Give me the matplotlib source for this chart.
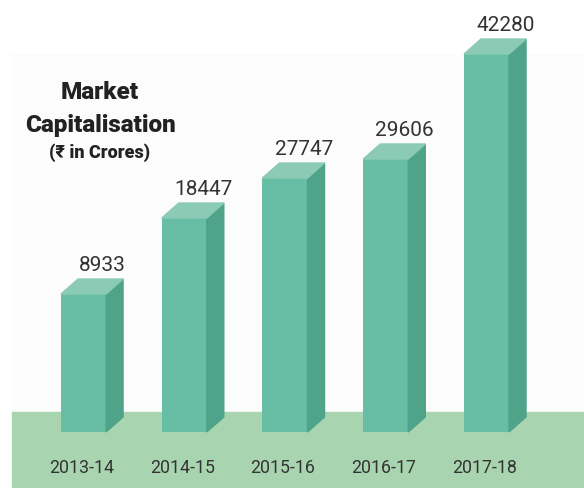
import numpy as np
import matplotlib
matplotlib.use("Agg")
import matplotlib.pyplot as plt

years = ["2013-14", "2014-15", "2015-16", "2016-17", "2017-18"]
market_cap = [8933, 18447, 27747, 29606, 42280]
# drawn heights as they appear in the infographic (not to scale)
bar_height = [138, 214, 254, 273, 378]

front_col = "#68bea5"
side_col = "#4fa388"
top_col = "#8bcbb5"
floor_col = "#a8d5b0"
txt_col = "#333333"

fam = ["Roboto", "DejaVu Sans"]


def main():
	fig = plt.figure(figsize=(5.84, 4.89), dpi=100)
	ax = fig.add_axes([0, 0, 1, 1])
	ax.set_xlim(-0.829, 4.968)
	ax.set_ylim(-56, 433)
	ax.axis("off")

	w = 0.447   # front face width
	dx = 0.169  # depth offset
	dy = 15

	# faint panel + floor
	ax.fill([-0.71, 4.968, 4.968, -0.71], [20, 20, 378, 378], color="#fcfcfc", zorder=0)
	ax.fill([-0.71, 4.968, 4.968, -0.71], [-56, -56, 20, 20], color=floor_col, zorder=1)

	x = np.arange(len(years))
	for i, h in enumerate(bar_height):
		x0 = x[i] - w / 2
		x1 = x[i] + w / 2
		ax.bar(x[i], h, width=w, color=front_col, zorder=3)
		ax.fill([x1, x1 + dx, x1 + dx, x1], [0, dy, h + dy, h], color=side_col, zorder=3)
		ax.fill([x0, x1, x1 + dx, x0 + dx], [h, h, h + dy, h + dy], color=top_col, zorder=3)
		ax.text(x[i] + dx * 1.1, h + 24, str(market_cap[i]), ha="center", va="baseline",
				fontsize=15, color=txt_col, family=fam, zorder=4)
		ax.text(x[i] - 0.02, -40, years[i], ha="center", va="baseline",
				fontsize=12.8, color=txt_col, family=fam, zorder=4)

	ax.text(0.164, 334, "Market", ha="center", va="baseline", fontsize=17.5,
			fontweight=900, color="#222222", family=fam)
	ax.text(0.164, 301, "Capitalisation", ha="center", va="baseline", fontsize=17.5,
			fontweight=900, color="#222222", family=fam)
	ax.text(0.164, 275, "(\u20b9 in Crores)", ha="center", va="baseline", fontsize=13,
			fontweight=900, color="#222222", family=fam)

	fig.savefig("out.png", dpi=100)


if __name__ == "__main__":
	main()
